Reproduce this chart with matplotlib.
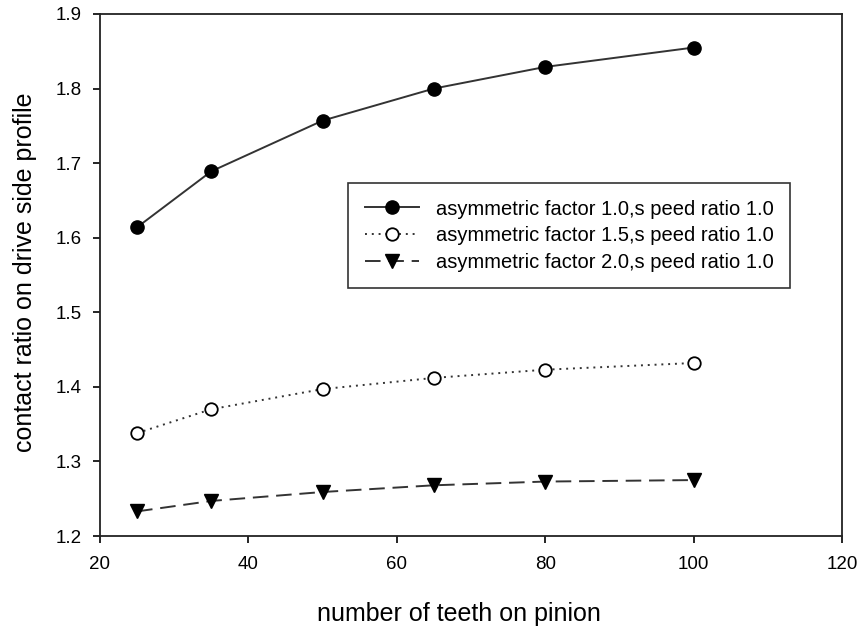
import matplotlib.pyplot as plt

plt.rcParams['font.family'] = ['Liberation Sans', 'DejaVu Sans']

# Number of teeth on pinion
teeth = [25, 35, 50, 65, 80, 100]

# Contact ratio on drive side profile for each asymmetric factor
cr_af10 = [1.614, 1.689, 1.757, 1.800, 1.829, 1.855]
cr_af15 = [1.338, 1.370, 1.397, 1.412, 1.423, 1.432]
cr_af20 = [1.233, 1.247, 1.259, 1.268, 1.273, 1.275]

labels = [
    "asymmetric factor 1.0,s peed ratio 1.0",
    "asymmetric factor 1.5,s peed ratio 1.0",
    "asymmetric factor 2.0,s peed ratio 1.0",
]

xticks = [20, 40, 60, 80, 100, 120]
yticks = [1.2, 1.3, 1.4, 1.5, 1.6, 1.7, 1.8, 1.9]

fig = plt.figure(figsize=(8.61, 6.3), dpi=100)
ax = fig.add_axes([0.1161, 0.1492, 0.9779 - 0.1161, 0.9778 - 0.1492])

line_col = '#333333'
ax.plot(teeth, cr_af10, color=line_col, lw=1.4, ls='-',
        marker='o', ms=9.5, mfc='black', mec='black', label=labels[0])
ax.plot(teeth, cr_af15, color=line_col, lw=1.4, ls=(0, (1, 2.5)),
        marker='o', ms=9, mfc='white', mec='black', mew=1.3, label=labels[1])
ax.plot(teeth, cr_af20, color=line_col, lw=1.4, ls=(0, (8, 4)),
        marker='v', ms=10, mfc='black', mec='black', label=labels[2])

ax.set_xlim(20, 120)
ax.set_ylim(1.2, 1.9)
ax.set_xticks(xticks)
ax.set_yticks(yticks)
ax.set_yticklabels([f"{v:.1f}" for v in yticks])
ax.tick_params(direction='out', length=5, width=1.2, labelsize=13.5,
               top=False, right=False)
ax.tick_params(axis='x', pad=9.5)
ax.tick_params(axis='y', pad=8)
for s in ax.spines.values():
    s.set_linewidth(1.3)
    s.set_color('#222222')

ax.set_xlabel("number of teeth on pinion", fontsize=18)
ax.set_ylabel("contact ratio on drive side profile", fontsize=18)
ax.xaxis.set_label_coords(0.484, -0.126)
ax.yaxis.set_label_coords(-0.085, 0.505)

leg = ax.legend(loc='upper left', bbox_to_anchor=(0.4042, 0.7095),
                bbox_transform=fig.transFigure, borderaxespad=0,
                fancybox=False, frameon=True, fontsize=14.5,
                handlelength=2.7, handletextpad=0.85, borderpad=0.82,
                labelspacing=0.38)
leg.get_frame().set_edgecolor('black')
leg.get_frame().set_linewidth(1.2)

fig.savefig("out.png", dpi=100)
